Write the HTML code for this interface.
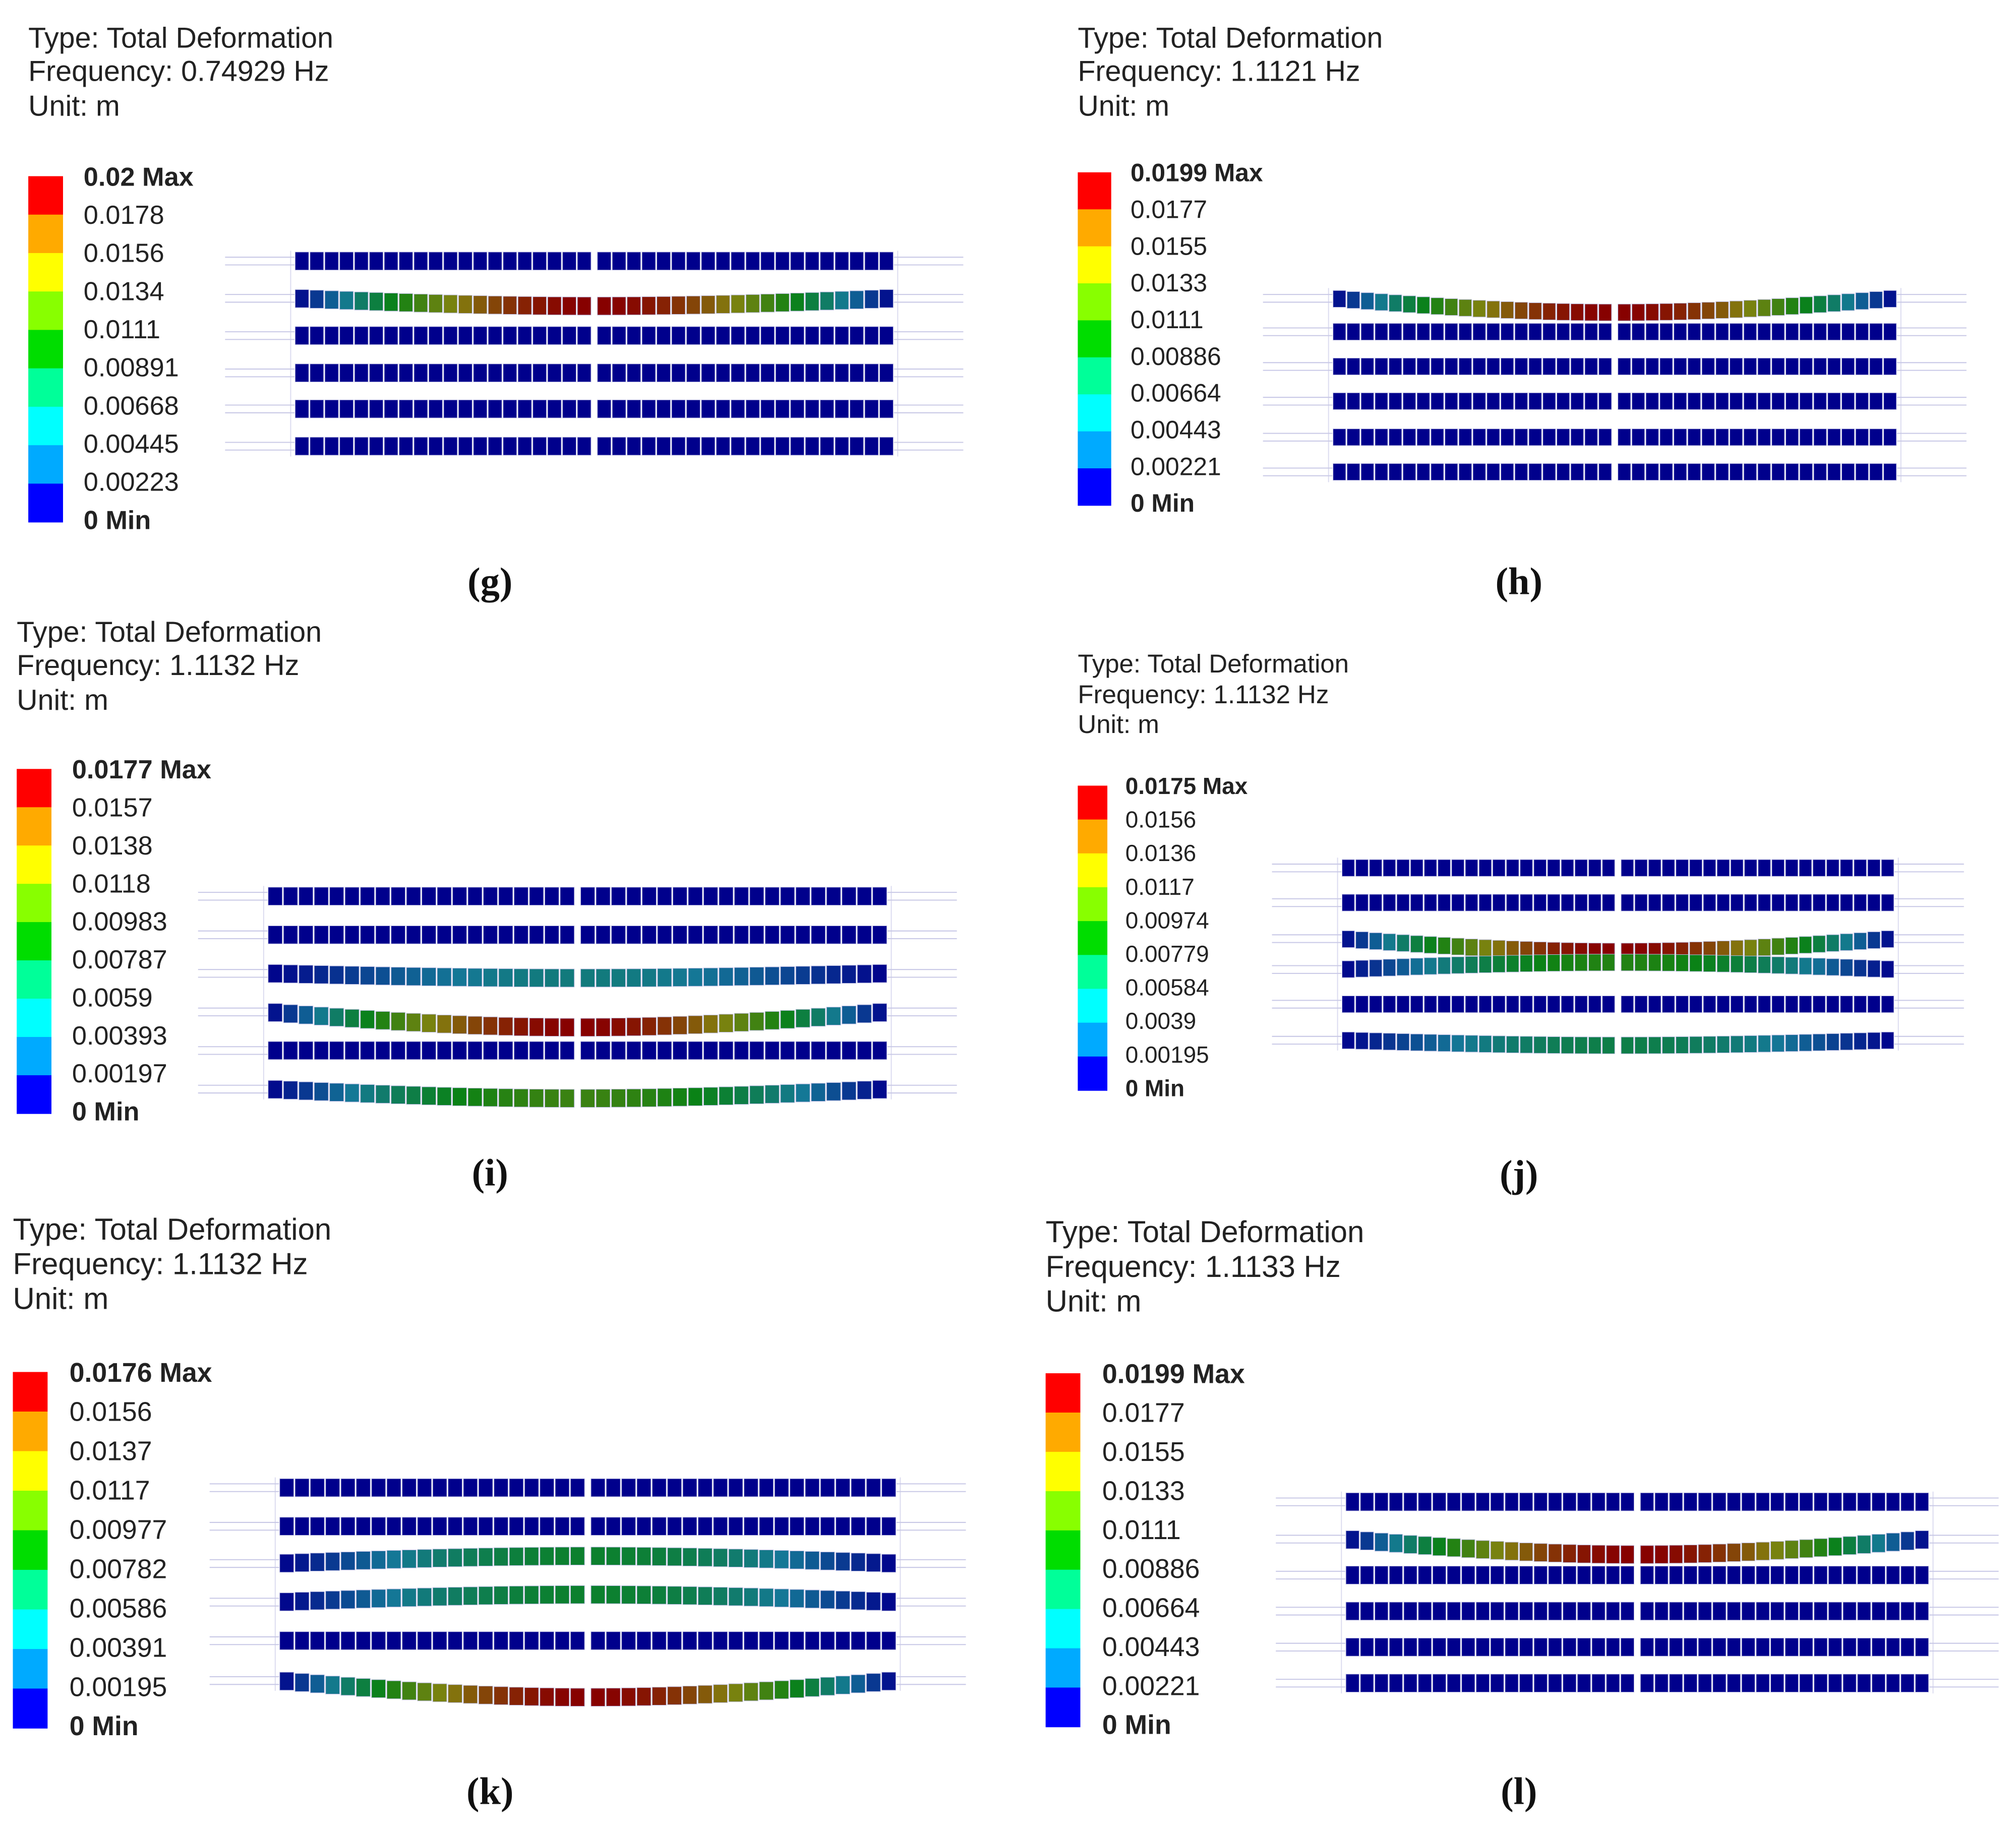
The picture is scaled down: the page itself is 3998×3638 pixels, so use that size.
<!DOCTYPE html>
<html><head><meta charset="utf-8"><style>
html,body{margin:0;padding:0;background:#fff;}
svg{display:block;}
.t{font-family:"Liberation Sans",sans-serif;fill:#222;}
.cap{font-family:"Liberation Serif",serif;font-weight:bold;fill:#111;}
</style></head><body>
<svg id="fig" width="3998" height="3638" viewBox="0 0 1567.5 1426.3" xmlns="http://www.w3.org/2000/svg"></svg>
<script>
// ---- data ----
const panelIds = ['g','h','i','j','k','l'];
const frequencies = ['0.74929','1.1121','1.1132','1.1132','1.1132','1.1133'];
const legendG = ['0.02 Max','0.0178','0.0156','0.0134','0.0111','0.00891','0.00668','0.00445','0.00223','0 Min'];
const legendH = ['0.0199 Max','0.0177','0.0155','0.0133','0.0111','0.00886','0.00664','0.00443','0.00221','0 Min'];
const legendI = ['0.0177 Max','0.0157','0.0138','0.0118','0.00983','0.00787','0.0059','0.00393','0.00197','0 Min'];
const legendJ = ['0.0175 Max','0.0156','0.0136','0.0117','0.00974','0.00779','0.00584','0.0039','0.00195','0 Min'];
const legendK = ['0.0176 Max','0.0156','0.0137','0.0117','0.00977','0.00782','0.00586','0.00391','0.00195','0 Min'];
const legendL = ['0.0199 Max','0.0177','0.0155','0.0133','0.0111','0.00886','0.00664','0.00443','0.00221','0 Min'];
// modal amplitude of each beam row (fraction of max, sign = sag direction)
const ampG = [0,1,0,0,0,0];
const ampH = [1,0,0,0,0,0];
const ampI = [0,0,0.3,1,0,0.6];
const ampJ = [0,0,1,-0.55,0,0.4];
const ampK = [0,0,-0.45,-0.45,0,1];
const ampL = [0,1,0,0,0,0];

// ---- layout ----
const L = [
 {tx:22,ty:[37,63,90],fs:22.5,cb:[22,137,27],lx:65,ly0:137,ly1:404,lfs:20.5,bx:[229,695],rows:[203,232,261,290,318,347],sag:6,h:14,cx:381,cy:452,legend:legendG,amp:ampG},
 {tx:838,ty:[37,63,90],fs:22.5,cb:[838,134,26],lx:879,ly0:134,ly1:391,lfs:19.5,bx:[1036,1475],rows:[232,258,285,312,340,367],sag:11,h:13,cx:1181,cy:452,legend:legendH,amp:ampH},
 {tx:13,ty:[499,525,552],fs:22.5,cb:[13,598,27],lx:56,ly0:598,ly1:864,lfs:20.5,bx:[208,690],rows:[697,727,757,787,817,847],sag:12,h:14,cx:381,cy:912,legend:legendI,amp:ampI},
 {tx:838,ty:[523,547,570],fs:20,cb:[838,611,23],lx:875,ly0:611,ly1:846,lfs:18,bx:[1043,1473],rows:[675,702,730,754,781,809],sag:10,h:13,cx:1181,cy:913,legend:legendJ,amp:ampJ},
 {tx:10,ty:[964,991,1018],fs:23.5,cb:[10,1067,27],lx:54,ly0:1067,ly1:1342,lfs:21,bx:[217,697],rows:[1157,1187,1216,1246,1276,1307],sag:13,h:14,cx:381,cy:1393,legend:legendK,amp:ampK},
 {tx:813,ty:[966,993,1020],fs:23.5,cb:[813,1068,27],lx:857,ly0:1068,ly1:1341,lfs:21,bx:[1046,1500],rows:[1168,1197,1225,1253,1281,1309],sag:12,h:14,cx:1181,cy:1393,legend:legendL,amp:ampL}
];
const bandColors = ['#ff0000','#ffaa00','#ffff00','#88ff00','#00dd00','#00ff99','#00ffff','#00aaff','#0000ff'];
const NS = 'http://www.w3.org/2000/svg';
const svg = document.getElementById('fig');
function mk(tag, attrs, parent){const e=document.createElementNS(NS,tag);for(const k in attrs)e.setAttribute(k,attrs[k]);(parent||svg).appendChild(e);return e;}
function lerp(a,b,t){return a+(b-a)*t;}
const cmStops=[[0,[0,0,140]],[0.25,[20,120,150]],[0.5,[10,130,20]],[0.75,[130,130,15]],[1,[135,0,0]]];
function cmap(v){v=Math.max(0,Math.min(1,v));for(let i=1;i<cmStops.length;i++){if(v<=cmStops[i][0]){const a=cmStops[i-1],b=cmStops[i];const t=(v-a[0])/(b[0]-a[0]);return 'rgb('+a[1].map((c,j)=>Math.round(lerp(c,b[1][j],t))).join(',')+')';}}return 'rgb(135,0,0)';}

L.forEach((p,pi)=>{
  const g = mk('g',{});
  
  
  const lines=['Type: Total Deformation','Frequency: '+frequencies[pi]+' Hz','Unit: m'];
  lines.forEach((s,i)=>{const t=mk('text',{x:p.tx,y:p.ty[i],class:'t','font-size':p.fs},g);t.textContent=s;
    
    });
  // colorbar: 9 bands from max label to min label
  const [cx0,cy0,cw]=p.cb; const ch=p.ly1-p.ly0+2; const bh=ch/9;
  const cbg=mk('g',{},g);
  
  
  for(let i=0;i<9;i++){
    const r=mk('rect',{x:cx0,y:cy0+i*bh,width:cw,height:bh+0.3,fill:bandColors[i]},cbg);
    
    }
  const step=(p.ly1-p.ly0)/9;
  p.legend.forEach((s,i)=>{const t=mk('text',{x:p.lx,y:p.ly0+i*step+p.lfs*0.36,class:'t','font-size':p.lfs,'font-weight':(i==0||i==9)?'bold':'normal'},g);t.textContent=s;
    
    });
  // beams
  const [x0,x1]=p.bx; const mid=(x0+x1)/2; const gap=4; const n=20;
  const halfW=(x1-x0-gap)/2; const cw2=halfW/n;
  mk('line',{x1:x0-3,y1:p.rows[0]-8,x2:x0-3,y2:p.rows[5]+8,stroke:'#dcdcf0','stroke-width':0.8},g);
  mk('line',{x1:x1+3,y1:p.rows[0]-8,x2:x1+3,y2:p.rows[5]+8,stroke:'#dcdcf0','stroke-width':0.8},g);
  p.rows.forEach((ry,ri)=>{
    const a=p.amp[ri];
    const rg=mk('g',{},g);
    
    
    [[x0-54,x0],[x1,x1+54]].forEach(([a1,a2])=>{
      mk('line',{x1:a1,y1:ry-3,x2:a2,y2:ry-3,stroke:'#c8c8e6','stroke-width':0.8},rg);
      mk('line',{x1:a1,y1:ry+3,x2:a2,y2:ry+3,stroke:'#c8c8e6','stroke-width':0.8},rg);
    });
    for(let h=0;h<2;h++){
      for(let k=0;k<n;k++){
        const xs=h==0? x0+k*cw2 : mid+gap/2+k*cw2;
        const xc=xs+cw2/2; const tpos=(xc-x0)/(x1-x0);
        const s=Math.sin(Math.PI*tpos);
        const dy=a*p.sag*s;
        const r=mk('rect',{x:xs+0.5,y:ry-p.h/2+dy,width:cw2-1,height:p.h,fill:cmap(Math.abs(a)*s),stroke:'#b8b8e0','stroke-width':0.4},rg);
        
        
      }
    }
  });
  const c=mk('text',{x:p.cx,y:p.cy+10,class:'cap','font-size':30,'text-anchor':'middle'},g);
  c.textContent='('+panelIds[pi]+')';
  
  
});
</script>
</body></html>
